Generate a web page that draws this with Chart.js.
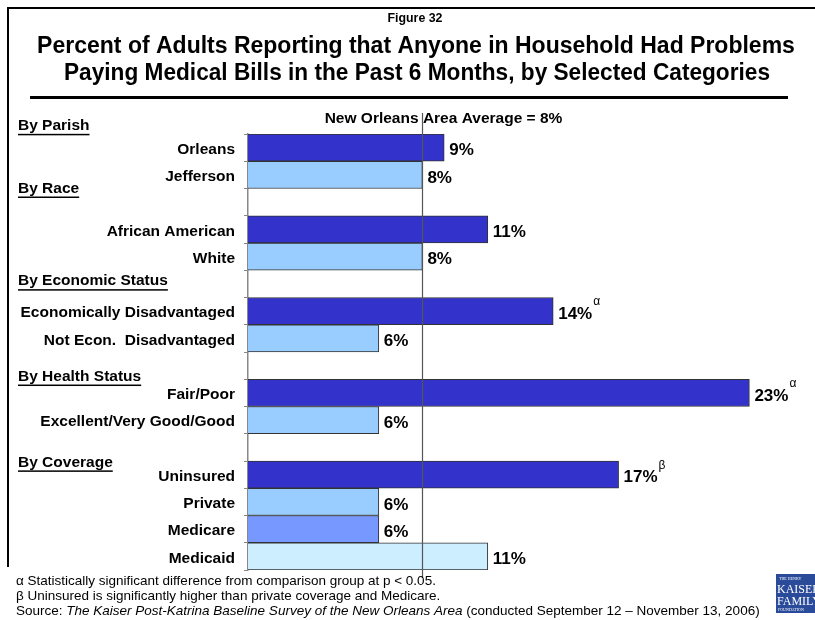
<!DOCTYPE html>
<html>
<head>
<meta charset="utf-8">
<script src="https://cdn.jsdelivr.net/npm/chart.js@4.4.1/dist/chart.umd.min.js"></script>
<style>
  html, body { margin: 0; padding: 0; background: #fff; }
  canvas { display: block; }
</style>
</head>
<body>
<canvas id="billsChart" width="815" height="620"></canvas>
<script>
// Survey results: empty slots are spacers between groups
const categories = [
  "Orleans", "Jefferson", "",
  "African American", "White", "",
  "Economically Disadvantaged", "Not Econ.  Disadvantaged", "",
  "Fair/Poor", "Excellent/Very Good/Good", "",
  "Uninsured", "Private", "Medicare", "Medicaid"
];
const values = [9, 8, null, 11, 8, null, 14, 6, null, 23, 6, null, 17, 6, 6, 11];
const sigMarks = ["", "", "", "", "", "", "α", "", "", "α", "", "", "β", "", "", ""];
const groupHeaders = ["By Parish", "By Race", "By Economic Status", "By Health Status", "By Coverage"];
const averageValue = 8;
const averageLabel = "New Orleans Area Average = 8%";

const DARK = "#3333CC", LIGHT = "#99CCFF", MEDICARE = "#7799FF", MEDICAID = "#CCEEFF";
const barColors = [DARK, LIGHT, null, DARK, LIGHT, null, DARK, LIGHT, null, DARK, LIGHT, null,
                   DARK, LIGHT, MEDICARE, MEDICAID];

// header y placement, in category slots
const headerSlots = [-0.8, 1.5, 4.9, 8.4, 11.55];

const FONT = '"Liberation Sans", Arial, sans-serif';

const decor = {
  id: "decor",
  afterDatasetsDraw(chart) {
    const { ctx, chartArea, scales: { x, y } } = chart;
    const meta = chart.getDatasetMeta(0);

    // value labels with significance marks
    ctx.save();
    ctx.fillStyle = "#000";
    ctx.textBaseline = "middle";
    meta.data.forEach((bar, i) => {
      if (values[i] == null) return;
      const txt = values[i] + "%";
      ctx.font = "bold 17px " + FONT;
      ctx.textAlign = "left";
      const tx = bar.x + 5;
      ctx.fillText(txt, tx, bar.y + 3);
      if (sigMarks[i]) {
        const w = ctx.measureText(txt).width;
        ctx.font = "12px " + FONT;
        ctx.fillText(sigMarks[i], tx + w + 1, bar.y - 9);
      }
    });

    // average reference line
    const ax = Math.round(x.getPixelForValue(averageValue)) + 0.5;
    ctx.strokeStyle = "#555";
    ctx.lineWidth = 1.2;
    ctx.beginPath();
    ctx.moveTo(ax, chartArea.top - 21);
    ctx.lineTo(ax, chartArea.bottom + 8);
    ctx.stroke();
    ctx.font = "bold 15.5px " + FONT;
    ctx.textAlign = "center";
    ctx.fillText(averageLabel, ax + 21, chartArea.top - 15);
    ctx.restore();
  },
  afterDraw(chart) {
    const { ctx, scales: { y } } = chart;
    ctx.save();
    ctx.fillStyle = "#000";

    // frame and title
    ctx.fillRect(7, 7, 808, 2);
    ctx.fillRect(7, 7, 2, 560);
    ctx.textAlign = "center";
    ctx.textBaseline = "alphabetic";
    ctx.font = "bold 13px " + FONT;
    ctx.fillText("Figure 32", 415, 22, 55);
    ctx.font = "bold 23px " + FONT;
    ctx.fillText("Percent of Adults Reporting that Anyone in Household Had Problems", 416, 53, 758);
    ctx.fillText("Paying Medical Bills in the Past 6 Months, by Selected Categories", 417, 80, 706);
    ctx.fillRect(30, 96, 758, 3);

    // group headers
    ctx.textAlign = "left";
    ctx.textBaseline = "middle";
    ctx.font = "bold 15.5px " + FONT;
    groupHeaders.forEach((h, i) => {
      const hy = y.getPixelForValue(headerSlots[i]);
      ctx.fillText(h, 18, hy);
      const w = ctx.measureText(h).width;
      ctx.fillRect(18, hy + 8, w, 1.5);
    });

    // footnotes
    ctx.textBaseline = "alphabetic";
    ctx.font = "13.5px " + FONT;
    ctx.fillText("\u03B1 Statistically significant difference from comparison group at p < 0.05.", 16, 585);
    ctx.fillText("\u03B2 Uninsured is significantly higher than private coverage and Medicare.", 16, 600);
    let sx = 16;
    const parts = [
      ["13.5px ", "Source: "],
      ["italic 13.5px ", "The Kaiser Post-Katrina Baseline Survey of the New Orleans Area"],
      ["13.5px ", " (conducted September 12 \u2013 November 13, 2006)"]
    ];
    parts.forEach(([f, t]) => {
      ctx.font = f + FONT;
      ctx.fillText(t, sx, 615);
      sx += ctx.measureText(t).width;
    });

    // foundation badge
    ctx.fillStyle = "#2A4A9A";
    ctx.fillRect(776, 574, 40, 39);
    ctx.fillStyle = "#fff";
    ctx.font = '4px "Liberation Serif", serif';
    ctx.fillText("THE HENRY", 779, 580);
    ctx.font = '12px "Liberation Serif", serif';
    ctx.fillText("KAISER", 777, 593);
    ctx.fillText("FAMILY", 777, 605);
    ctx.font = '4px "Liberation Serif", serif';
    ctx.fillText("FOUNDATION", 778, 611);
    ctx.restore();
  }
};

new Chart(document.getElementById("billsChart"), {
  type: "bar",
  data: {
    labels: categories,
    datasets: [{
      data: values,
      backgroundColor: barColors,
      borderColor: "#333",
      borderWidth: 1,
      borderSkipped: "left",
      categoryPercentage: 1,
      barPercentage: 1
    }]
  },
  options: {
    indexAxis: "y",
    responsive: false,
    animation: false,
    layout: { padding: { top: 134, bottom: 50, left: 0, right: 22 } },
    plugins: { legend: { display: false }, tooltip: { enabled: false } },
    scales: {
      x: { display: false, min: 0, max: 25 },
      y: {
        afterFit: s => { s.width = 248; },
        grid: { display: true, drawOnChartArea: false, tickLength: 4, offset: true, color: "#888" },
        border: { display: true, color: "#888", width: 1.5 },
        ticks: {
          color: "#000",
          padding: 9,
          labelOffset: 2,
          autoSkip: false,
          font: { family: FONT, size: 15.5, weight: "bold" }
        }
      }
    }
  },
  plugins: [decor]
});
</script>
</body>
</html>
